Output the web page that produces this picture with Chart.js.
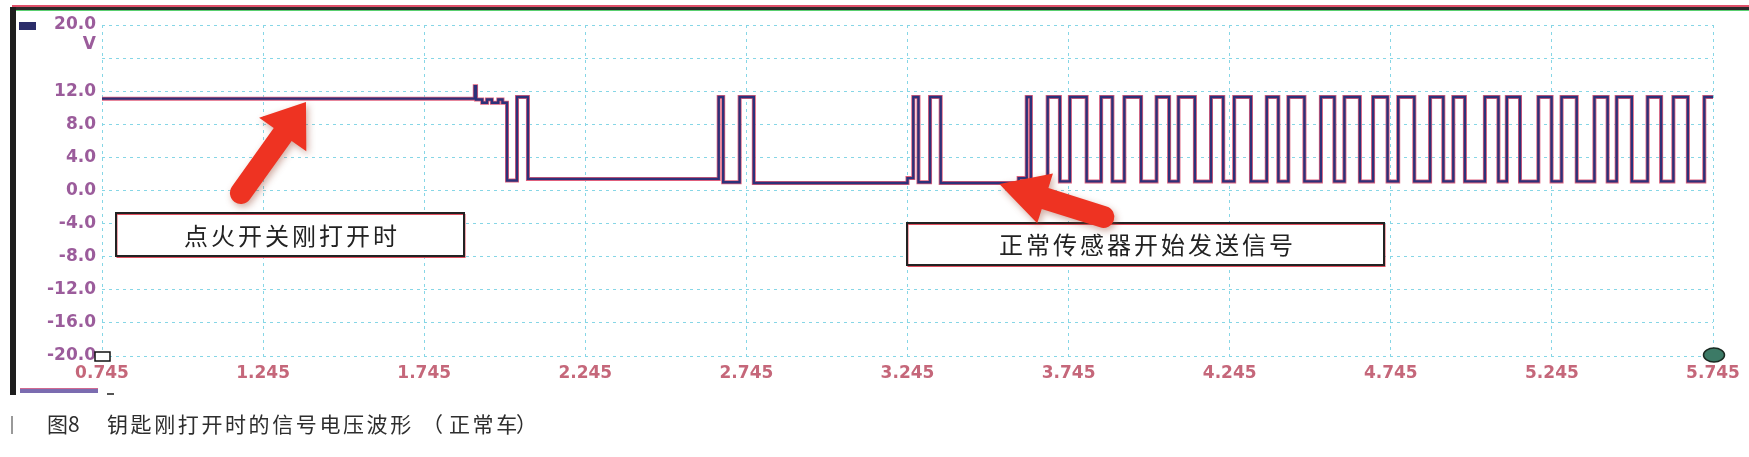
<!DOCTYPE html>
<html>
<head>
<meta charset="utf-8">
<script src="https://cdn.jsdelivr.net/npm/chart.js@4.4.0/dist/chart.umd.min.js"></script>
<style>
  html, body { margin: 0; padding: 0; background: #fff; }
  #wrap { width: 1749px; height: 457px; }
</style>
</head>
<body>
<div id="wrap"><canvas id="scope" width="1749" height="457"></canvas></div>
<script>
// --- Achsen ---
const xTicks = [0.745, 1.245, 1.745, 2.245, 2.745, 3.245, 3.745, 4.245, 4.745, 5.245, 5.745];
const yTicks = [-20, -16, -12, -8, -4, 0, 4, 8, 12, 16, 20];

// --- Signal: Zeitpunkt (s) ab dem der Pegel (V) gilt ---
const startTimes = [0.745, 1.902, 1.906, 1.925, 1.940, 1.955, 1.975, 1.988, 2.002, 2.033, 2.067];
const startVolts = [11.1, 12.6, 11.0, 10.6, 11.0, 10.6, 11.0, 10.6, 1.2, 11.3, 1.4];

const burstTimes = [2.659, 2.673, 2.724, 2.768, 3.245, 3.263, 3.279, 3.315, 3.348, 3.590];
const burstVolts = [11.3, 1.0, 11.3, 0.9, 1.5, 11.3, 1.0, 11.3, 0.9, 1.5];

// Impulsfolge nach Sensorstart: steigende / fallende Flanken
const riseTimes = [3.615, 3.680, 3.749, 3.846, 3.918, 4.018, 4.086, 4.187, 4.259, 4.360,
                   4.427, 4.528, 4.601, 4.690, 4.768, 4.867, 4.939, 5.037, 5.105, 5.203,
                   5.275, 5.377, 5.446, 5.542, 5.622, 5.718];
const fallTimes = [3.628, 3.718, 3.801, 3.881, 3.970, 4.057, 4.137, 4.225, 4.311, 4.396,
                   4.477, 4.570, 4.649, 4.735, 4.818, 4.908, 4.975, 5.079, 5.146, 5.244,
                   5.322, 5.418, 5.493, 5.584, 5.667, 5.745];
const highVolt = 11.3;
const lowVolt = 1.1;

// --- Texte ---
const noteLeft = '点火开关刚打开时';
const noteRight = '正常传感器开始发送信号';
const captionNo = '图8';
const captionMain = '钥匙刚打开时的信号电压波形';
const captionCar = '正常车';

// --- Punkte zusammenbauen ---
const points = [];
for (let i = 0; i < startTimes.length; i++) points.push({ x: startTimes[i], y: startVolts[i] });
for (let i = 0; i < burstTimes.length; i++) points.push({ x: burstTimes[i], y: burstVolts[i] });
for (let i = 0; i < riseTimes.length; i++) {
    points.push({ x: riseTimes[i], y: highVolt });
    // letzte Flanke liegt am Bildrand, dort bleibt der Pegel oben
    points.push({ x: fallTimes[i], y: i === riseTimes.length - 1 ? highVolt : lowVolt });
}

const labelFont = { family: 'DejaVu Sans', weight: 'bold', size: 17 };

// --- Pfeil zeichnen ---
function drawArrow(ctx, tx, ty, bx, by, headLen, headW, shaftW) {
    const ang = Math.atan2(ty - by, tx - bx);
    const len = Math.hypot(tx - bx, ty - by);
    ctx.save();
    ctx.translate(bx, by);
    ctx.rotate(ang);
    ctx.beginPath();
    ctx.moveTo(0, -shaftW / 2);
    ctx.lineTo(len - headLen, -shaftW / 2);
    ctx.lineTo(len - headLen, -headW / 2);
    ctx.lineTo(len, 0);
    ctx.lineTo(len - headLen, headW / 2);
    ctx.lineTo(len - headLen, shaftW / 2);
    ctx.lineTo(0, shaftW / 2);
    ctx.arc(0, 0, shaftW / 2, Math.PI / 2, -Math.PI / 2);
    ctx.closePath();
    ctx.shadowColor = 'rgba(150,70,50,0.45)';
    ctx.shadowBlur = 7;
    ctx.shadowOffsetX = 2;
    ctx.shadowOffsetY = 3;
    ctx.fillStyle = '#ee3322';
    ctx.fill();
    ctx.restore();
}

// --- Kasten mit Text ---
function drawNote(ctx, x, y, w, h, text) {
    ctx.save();
    ctx.fillStyle = '#fff';
    ctx.fillRect(x, y, w, h);
    ctx.strokeStyle = '#e05060';
    ctx.lineWidth = 1;
    ctx.strokeRect(x + 1, y + 1.5, w, h);
    ctx.strokeStyle = '#222';
    ctx.lineWidth = 2;
    ctx.strokeRect(x, y, w, h);
    ctx.font = '24px "Noto Sans CJK SC"';
    ctx.letterSpacing = '3px';
    ctx.fillStyle = '#222';
    ctx.textAlign = 'center';
    ctx.textBaseline = 'middle';
    ctx.fillText(text, x + w / 2 + 2, y + h / 2 + 1);
    ctx.restore();
}

// --- Rahmen, Pfeile, Beschriftung ---
const decor = {
    id: 'decor',
    beforeDraw(chart) {
        const ctx = chart.ctx;
        ctx.save();
        ctx.fillStyle = '#fff';
        ctx.fillRect(0, 0, chart.width, chart.height);
        ctx.restore();
    },
    afterDraw(chart) {
        const ctx = chart.ctx;
        const xs = chart.scales.x, ys = chart.scales.y;
        ctx.save();

        // Oberer Rand
        ctx.fillStyle = '#e0506a';
        ctx.fillRect(12, 5, 1737, 2);
        ctx.fillStyle = '#2a2a2a';
        ctx.fillRect(12, 7, 1737, 3);
        ctx.fillStyle = '#5ad070';
        ctx.fillRect(12, 10, 1737, 1);

        // Linker Rand
        ctx.fillStyle = '#1e1e1e';
        ctx.fillRect(10, 7, 6, 388);

        // Marker oben links
        ctx.fillStyle = '#2b2d6a';
        ctx.fillRect(19, 22, 17, 8);

        // Balken unten links
        ctx.fillStyle = '#7b6cb0';
        ctx.fillRect(20, 388, 78, 5);
        ctx.fillStyle = '#d06a90';
        ctx.fillRect(20, 388, 78, 1);
        ctx.fillStyle = '#555';
        ctx.fillRect(107, 393, 7, 2);

        // Einheit
        ctx.font = 'bold 17px "DejaVu Sans"';
        ctx.fillStyle = '#9b5c9b';
        ctx.textAlign = 'right';
        ctx.textBaseline = 'middle';
        ctx.fillText('V', 96, 45);

        // Cursor-Marken
        const x0 = xs.getPixelForValue(xTicks[0]);
        const x1 = xs.getPixelForValue(xTicks[xTicks.length - 1]);
        const yb = ys.getPixelForValue(-20);
        ctx.strokeStyle = '#111';
        ctx.lineWidth = 1.5;
        ctx.fillStyle = '#fff';
        ctx.fillRect(x0 - 7, yb - 4, 15, 9);
        ctx.strokeRect(x0 - 7, yb - 4, 15, 9);
        ctx.beginPath();
        ctx.ellipse(x1 + 1, yb - 1, 10.5, 7, 0, 0, Math.PI * 2);
        ctx.fillStyle = '#3c7a66';
        ctx.fill();
        ctx.strokeStyle = '#1a2a22';
        ctx.stroke();

        // Kästen
        drawNote(ctx, 116, 213, 348, 43, noteLeft);
        drawNote(ctx, 907, 223, 477, 42, noteRight);

        // Pfeile
        const t1x = xs.getPixelForValue(1.378), t1y = ys.getPixelForValue(10.7);
        drawArrow(ctx, t1x, t1y, t1x - 65, t1y + 91, 40, 58, 22);
        const t2x = xs.getPixelForValue(3.530), t2y = ys.getPixelForValue(0.8);
        drawArrow(ctx, t2x, t2y, t2x + 104, t2y + 33, 48, 52, 22);

        // Bildunterschrift
        ctx.fillStyle = '#999';
        ctx.fillRect(11, 416, 2, 18);
        ctx.font = '21px "Noto Sans CJK SC"';
        ctx.fillStyle = '#2e2e2e';
        ctx.textAlign = 'left';
        ctx.textBaseline = 'middle';
        ctx.fillText(captionNo, 47, 424);
        ctx.letterSpacing = '2.6px';
        ctx.fillText(captionMain, 107, 424);
        ctx.fillText('（', 422, 424);
        ctx.fillText(captionCar, 449, 424);
        ctx.fillText('）', 516, 424);
        ctx.restore();
    }
};

// --- Diagramm ---
new Chart(document.getElementById('scope').getContext('2d'), {
    type: 'line',
    data: {
        datasets: [{
            data: points,
            borderColor: '#2d3179',
            borderWidth: 2.4,
            stepped: 'before',
            pointRadius: 0
        }, {
            data: points,
            borderColor: '#e0607c',
            borderWidth: 4,
            stepped: 'before',
            pointRadius: 0
        }]
    },
    options: {
        responsive: false,
        animation: false,
        events: [],
        layout: { padding: { left: 0, right: 36, top: 25, bottom: 71 } },
        plugins: { legend: { display: false }, tooltip: { enabled: false } },
        scales: {
            x: {
                type: 'linear',
                min: 0.745,
                max: 5.745,
                afterBuildTicks: s => { s.ticks = xTicks.map(v => ({ value: v })); },
                afterFit: s => { s.height = 30; },
                ticks: {
                    callback: v => v.toFixed(3),
                    font: labelFont,
                    color: '#c5677a',
                    padding: 7,
                    maxRotation: 0,
                    autoSkip: false
                },
                grid: { color: '#86d6e6', lineWidth: 1, drawTicks: false },
                border: { display: false, dash: [3, 4] }
            },
            y: {
                min: -20,
                max: 20,
                afterBuildTicks: s => { s.ticks = yTicks.map(v => ({ value: v })); },
                afterFit: s => { s.width = 102; },
                ticks: {
                    callback: v => (v === 16 ? '' : v.toFixed(1)),
                    font: labelFont,
                    color: '#9b5c9b',
                    padding: 6
                },
                grid: { color: '#86d6e6', lineWidth: 1, drawTicks: false },
                border: { display: false, dash: [3, 4] }
            }
        }
    },
    plugins: [decor]
});
</script>
</body>
</html>
